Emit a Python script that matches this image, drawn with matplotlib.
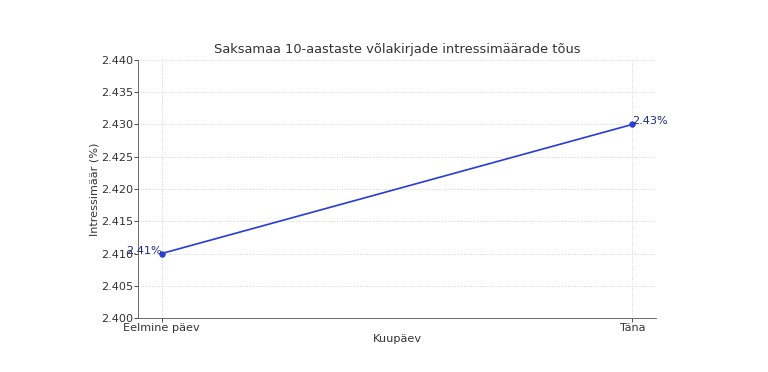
import matplotlib
matplotlib.use('Agg')
import matplotlib.pyplot as plt

# Andmed
paevad = ['Eelmine päev', 'Täna']
maarad = [2.41, 2.43]
sildid = ['2.41%', '2.43%']

fig = plt.figure(figsize=(10, 372 / 76.8), dpi=76.8)
ax = fig.add_axes([0.180, 0.145, 0.674, 0.694])

ax.plot(paevad, maarad, marker='o', color='#2b3fd6', markersize=5, linewidth=1.6)
ax.text(0, maarad[0], sildid[0], ha='right', va='baseline', color='#1c2a8c', fontsize=10.5)
ax.text(1, maarad[1], sildid[1], ha='left', va='baseline', color='#1c2a8c', fontsize=10.5)

ax.set_ylim(2.400, 2.440)
ax.set_yticks([2.400, 2.405, 2.410, 2.415, 2.420, 2.425, 2.430, 2.435, 2.440])
ax.set_yticklabels(['%.3f' % v for v in ax.get_yticks()])
ax.tick_params(labelsize=10.5, colors='#333333', pad=0.8)
ax.set_title('Saksamaa 10-aastaste võlakirjade intressimäärade tõus', fontsize=12.2, color='#333333')
ax.set_xlabel('Kuupäev', fontsize=10.5, color='#333333', labelpad=1.5)
ax.set_ylabel('Intressimäär (%)', fontsize=10.5, color='#333333', labelpad=2)
ax.grid(True, linestyle=':', color='#cccccc', linewidth=0.8)
ax.spines['top'].set_visible(False)
ax.spines['right'].set_visible(False)
ax.spines['left'].set_color('#555555')
ax.spines['bottom'].set_color('#555555')

plt.savefig('out.png', dpi=76.8)
